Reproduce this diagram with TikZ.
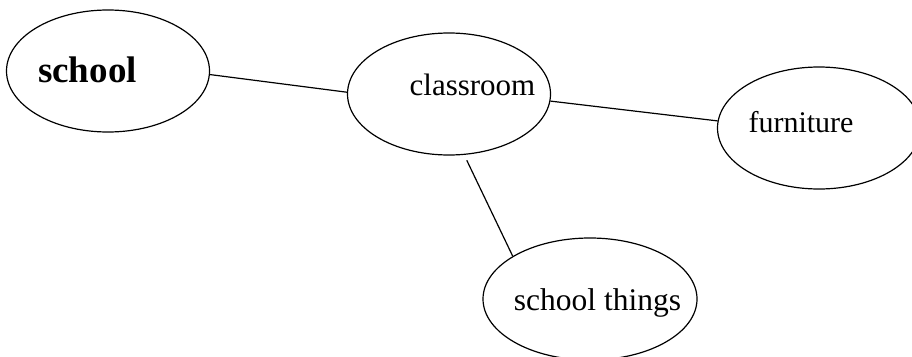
\documentclass[tikz,border=0pt]{standalone}
\usepackage{fontspec}
\setmainfont{Liberation Serif}
\usetikzlibrary{shapes.geometric}
\tikzset{bubble node/.style={ellipse,draw,line width=1.2pt,minimum width=203pt,minimum height=122pt,inner sep=0pt},
word node/.style={anchor=base,inner sep=0pt,font=\fontsize{30}{36}\selectfont},
}

\begin{document}
\begin{tikzpicture}[x=1pt,y=-1pt]
				\useasboundingbox (0,0) rectangle (912,356);
				\node[bubble node] (school) at (108,71) {};
				\node[bubble node] (classroom) at (449,94) {};
				\node[bubble node] (furniture) at (819,128) {};
				\node[bubble node,minimum width=214pt] (things) at (590,299) {};
				
				\node[word node,font=\fontsize{37}{44}\selectfont\bfseries] (schooltext) at (87.5,82) {school};
				\node[word node,font=\fontsize{31}{37}\selectfont] (classroomtext) at (472.5,95.7) {classroom};
				\node[word node] (furnituretext) at (801,132.7) {furniture};
				\node[word node,font=\fontsize{31.5}{37}\selectfont] (thingstext) at (597.5,310) {school things};
				
				\path[draw,line width=1.2pt]
				(school.-2) edge (classroom.179)
				(classroom.-4) edge (furniture.176.5)
				(classroom.-76) edge[shorten <=6pt] (things.151);
				
			\end{tikzpicture}
\end{document}
